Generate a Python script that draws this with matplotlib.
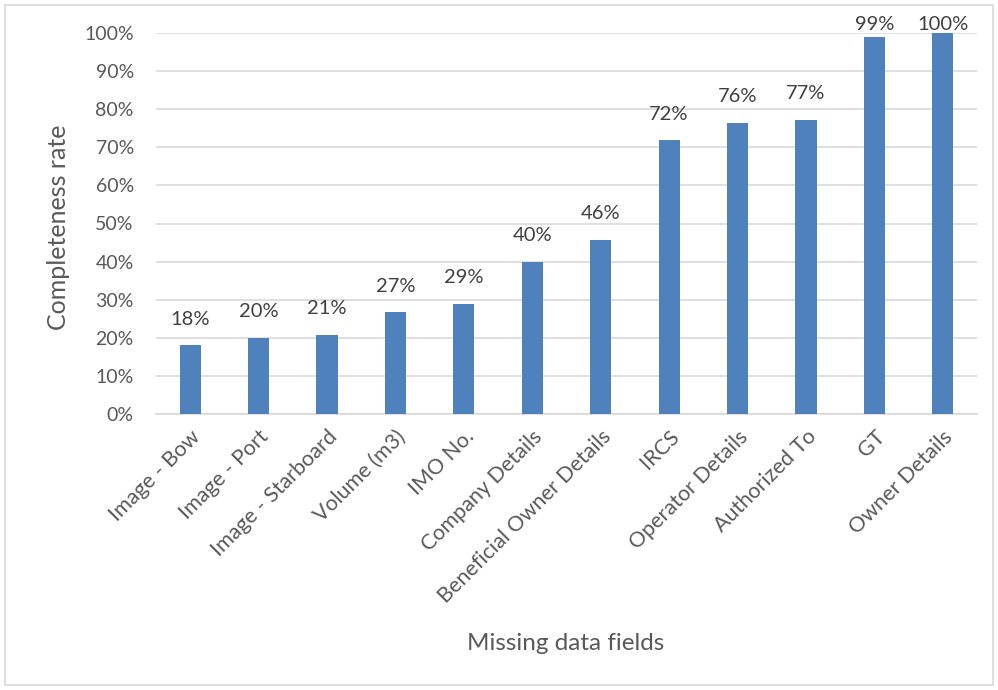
import matplotlib
matplotlib.use("Agg")
import matplotlib.pyplot as plt
from matplotlib.patches import Rectangle
from matplotlib.ticker import MultipleLocator, FuncFormatter

# Completeness rate per data field (%)
fields = ["Image - Bow", "Image - Port", "Image - Starboard", "Volume (m3)",
          "IMO No.", "Company Details", "Beneficial Owner Details", "IRCS",
          "Operator Details", "Authorized To", "GT", "Owner Details"]
completeness = [18.0, 20.0, 20.8, 26.7, 29.0, 40.0, 45.8, 71.8, 76.4, 77.2, 98.9, 100.0]

plt.rcParams['font.family'] = ['Lato', 'DejaVu Sans']

W, H = 998, 690
fig = plt.figure(figsize=(W / 100, H / 100), dpi=100)
ax_left, ax_right, ax_top, ax_bottom = 156, 977, 33, 414
ax = fig.add_axes([ax_left / W, 1 - ax_bottom / H, (ax_right - ax_left) / W,
                   (ax_bottom - ax_top) / H])

bar_color = "#4F81BD"
grid_color = "#D9D9D9"
tick_color = "#595959"
label_color = "#404040"

x = range(len(fields))
ax.bar(x, completeness, width=0.31, color=bar_color, zorder=3)

ax.set_xlim(-0.5, len(fields) - 0.5)
ax.set_ylim(0, 100)

# Value labels sit above each bar, kept inside the chart area near the top
px_per_unit = (ax_bottom - ax_top) / 100
for xi, v in zip(x, completeness):
    top_px = ax_bottom - v * px_per_unit
    offset = min(26, top_px - 24)
    ax.annotate(f"{v:.0f}%", (xi, v), xytext=(0, offset), textcoords="offset pixels",
                ha="center", va="center", fontsize=14.5, color=label_color,
                annotation_clip=False)

ax.yaxis.set_major_locator(MultipleLocator(10))
ax.yaxis.set_major_formatter(FuncFormatter(lambda v, p: f"{v:.0f}%"))
ax.grid(axis="y", color=grid_color, linewidth=1.2, zorder=0)
ax.set_axisbelow(True)

for s in ["top", "right", "left"]:
    ax.spines[s].set_visible(False)
ax.spines["bottom"].set_color(grid_color)
ax.spines["bottom"].set_linewidth(1.2)

ax.tick_params(axis="y", length=0, pad=16, labelsize=14, labelcolor=tick_color)
ax.tick_params(axis="x", length=0, pad=9, labelsize=15.5, labelcolor=tick_color)
ax.set_xticks(list(x))
ax.set_xticklabels(fields, rotation=45, ha="right", va="top", rotation_mode="anchor")

fig.text(58 / W, 1 - 227 / H, "Completeness rate", rotation=90, ha="center",
         va="center", fontsize=18, color=tick_color)
fig.text(566 / W, 1 - 643 / H, "Missing data fields", ha="center", va="center",
         fontsize=17.5, color=tick_color)

# Chart-area frame
fig.patches.append(Rectangle((5 / W, 5 / H), (W - 10) / W, (H - 10) / H,
                             transform=fig.transFigure, fill=False,
                             edgecolor=grid_color, linewidth=1.2))

fig.savefig("out.png", dpi=100, facecolor="white")
